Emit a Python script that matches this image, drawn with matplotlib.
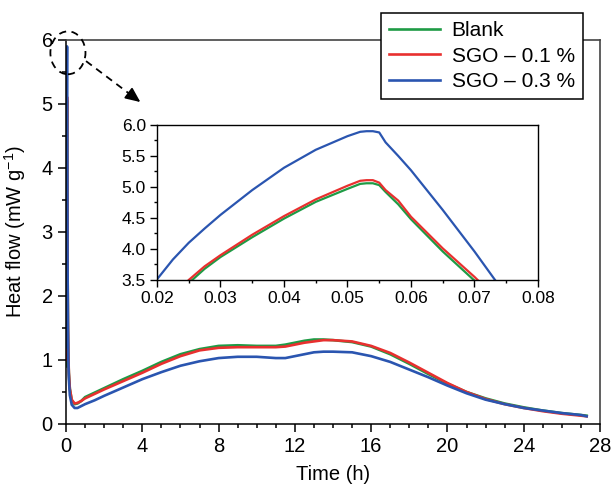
import matplotlib
matplotlib.use("Agg")
import matplotlib.pyplot as plt
from matplotlib.patches import Ellipse
from matplotlib.ticker import MultipleLocator, FormatStrFormatter

plt.rcParams['font.family'] = ['Liberation Sans', 'DejaVu Sans']
plt.rcParams['mathtext.fontset'] = 'custom'
plt.rcParams['mathtext.rm'] = 'Liberation Sans'
plt.rcParams['mathtext.it'] = 'Liberation Sans:italic'

# ---- data ----
time_h = [0.0, 0.01, 0.02, 0.0225, 0.025, 0.0275, 0.03, 0.035, 0.04, 0.045,
          0.05, 0.052, 0.053, 0.054, 0.055, 0.056, 0.058, 0.06, 0.065, 0.07,
          0.075, 0.08, 0.1, 0.12, 0.15, 0.2, 0.3, 0.45, 0.6, 0.8,
          1, 1.5, 2, 3, 4, 5, 6, 7, 8, 9,
          10, 11, 11.5, 12, 12.5, 13, 13.5, 14, 15, 16,
          17, 18, 19, 20, 21, 22, 23, 24, 25, 26,
          27, 27.3]

blank = [0.9, 1.7, 2.9, 3.17, 3.45, 3.68, 3.87, 4.19, 4.49, 4.76,
         4.97, 5.05, 5.06, 5.06, 5.03, 4.92, 4.72, 4.48, 3.96, 3.49,
         3.0, 2.55, 1.55, 1.05, 0.78, 0.55, 0.37, 0.31, 0.32, 0.36,
         0.42, 0.49, 0.56, 0.70, 0.83, 0.97, 1.09, 1.17, 1.22, 1.23,
         1.22, 1.22, 1.24, 1.27, 1.30, 1.32, 1.32, 1.31, 1.28, 1.21,
         1.09, 0.94, 0.78, 0.63, 0.50, 0.40, 0.32, 0.26, 0.21, 0.17,
         0.14, 0.13]

sgo_01 = [1.0, 1.8, 2.95, 3.22, 3.5, 3.72, 3.90, 4.23, 4.53, 4.80,
          5.02, 5.10, 5.11, 5.11, 5.07, 4.95, 4.78, 4.52, 4.01, 3.55,
          3.05, 2.6, 1.6, 1.1, 0.8, 0.55, 0.38, 0.32, 0.33, 0.36,
          0.40, 0.47, 0.54, 0.67, 0.80, 0.94, 1.06, 1.15, 1.19, 1.20,
          1.20, 1.20, 1.21, 1.24, 1.27, 1.29, 1.31, 1.31, 1.29, 1.22,
          1.11, 0.96, 0.80, 0.64, 0.50, 0.39, 0.31, 0.25, 0.20, 0.16,
          0.13, 0.12]

sgo_03 = [1.2, 2.4, 3.51, 3.83, 4.10, 4.33, 4.55, 4.95, 5.31, 5.60,
          5.82, 5.89, 5.90, 5.90, 5.88, 5.72, 5.50, 5.27, 4.63, 3.96,
          3.25, 2.6, 1.5, 1.0, 0.7, 0.45, 0.30, 0.25, 0.25, 0.28,
          0.31, 0.37, 0.44, 0.57, 0.70, 0.81, 0.91, 0.98, 1.03, 1.05,
          1.05, 1.03, 1.03, 1.06, 1.09, 1.12, 1.13, 1.13, 1.12, 1.06,
          0.97, 0.85, 0.73, 0.60, 0.48, 0.38, 0.31, 0.25, 0.21, 0.17,
          0.14, 0.12]

labels = ['Blank', 'SGO – 0.1 %', 'SGO – 0.3 %']
colors = ['#1e9b45', '#e8302f', '#2a55b0']
series = [blank, sgo_01, sgo_03]

fig = plt.figure(figsize=(6.13, 4.86), dpi=100)
ax = fig.add_axes([0.1077, 0.1276, 0.8711, 0.7901])

for y, c, lab in zip(series, colors, labels):
    ax.plot(time_h, y, color=c, lw=1.9, label=lab, solid_joinstyle='round')

ax.set_xlim(0, 28)
ax.set_ylim(0, 6)
ax.xaxis.set_major_locator(MultipleLocator(4))
ax.xaxis.set_minor_locator(MultipleLocator(1))
ax.yaxis.set_major_locator(MultipleLocator(1))
ax.yaxis.set_minor_locator(MultipleLocator(0.5))
ax.tick_params(which='major', direction='out', length=6, width=1.1, labelsize=14.5, pad=3.5)
ax.tick_params(which='minor', direction='out', length=3, width=1.1)
for s in ['left', 'bottom']:
    ax.spines[s].set_color('black')
    ax.spines[s].set_linewidth(1.1)
for s in ['top', 'right']:
    ax.spines[s].set_color('#444444')
    ax.spines[s].set_linewidth(1.2)
ax.set_xlabel('Time (h)', fontsize=14.5, labelpad=6)
ax.set_ylabel('Heat flow (mW g$^{-1}$)', fontsize=14.5)
ax.yaxis.set_label_coords(-0.071, 0.5)

leg = ax.legend(loc='upper right', bbox_to_anchor=(0.951, 0.973),
                bbox_transform=fig.transFigure, fontsize=15, frameon=True,
                fancybox=False, edgecolor='black', framealpha=1,
                handlelength=2.45, labelspacing=0.3, borderpad=0.4,
                handletextpad=0.55, borderaxespad=0)
leg.get_frame().set_linewidth(1.1)

# dashed ellipse and arrow
ell = Ellipse((0.1, 5.8), width=1.84, height=0.67, fill=False, ls=(0, (4, 3)),
              lw=1.3, color='black', clip_on=False, zorder=5)
ax.add_patch(ell)
ax.plot([1.05, 3.5], [5.67, 5.12], ls=(0, (4, 3)), lw=1.3, color='black', clip_on=False)
ax.annotate('', xy=(3.9, 5.03), xytext=(3.3, 5.165),
            arrowprops=dict(arrowstyle='-|>,head_length=0.9,head_width=0.4',
                            color='black', lw=1.3, shrinkA=0, shrinkB=0))

# inset
axi = fig.add_axes([0.2561, 0.4239, 0.6215, 0.3189])
for y, c in zip(series, colors):
    axi.plot(time_h, y, color=c, lw=1.6)
axi.set_xlim(0.02, 0.08)
axi.set_ylim(3.5, 6.0)
axi.xaxis.set_major_locator(MultipleLocator(0.01))
axi.xaxis.set_minor_locator(MultipleLocator(0.005))
axi.yaxis.set_major_locator(MultipleLocator(0.5))
axi.yaxis.set_minor_locator(MultipleLocator(0.25))
axi.xaxis.set_major_formatter(FormatStrFormatter('%.2f'))
axi.yaxis.set_major_formatter(FormatStrFormatter('%.1f'))
axi.tick_params(which='major', direction='out', length=5, width=1.0, labelsize=12.5, pad=3)
axi.tick_params(which='minor', direction='out', length=2.5, width=1.0)
for s in axi.spines.values():
    s.set_linewidth(1.0)
    s.set_color('black')

fig.savefig('out.png', dpi=100)
